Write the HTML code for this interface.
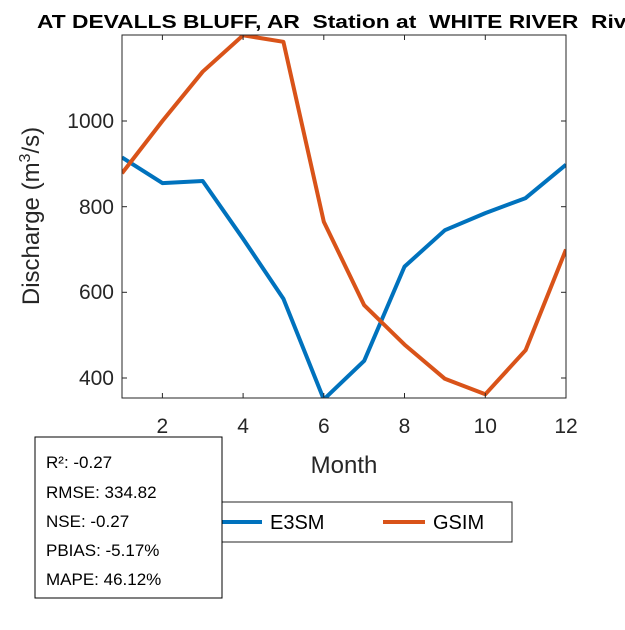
<!DOCTYPE html>
<html><head><style>body{margin:0;background:#fff}</style></head><body>
<svg width="625" height="625" xmlns="http://www.w3.org/2000/svg" font-family="Liberation Sans, Arial, sans-serif">
<rect width="625" height="625" fill="#fff"/>
<text x="37" y="28" font-size="18" font-weight="bold" fill="#000" style="white-space:pre" textLength="611" lengthAdjust="spacingAndGlyphs">AT DEVALLS BLUFF, AR  Station at  WHITE RIVER  River</text>
<defs><clipPath id="c"><rect x="122" y="35" width="444" height="363"/></clipPath></defs>
<g clip-path="url(#c)" fill="none" stroke-width="4" stroke-linejoin="round">
<polyline stroke="#0072BD" points="122,157.4 162.4,183.1 202.7,181 243.1,238.8 283.4,298.7 323.8,399.4 364.2,360.8 404.5,266.6 444.9,230.2 485.3,213.1 525.6,198.1 566,164.7"/>
<polyline stroke="#D95319" points="122,173.3 162.4,121 202.7,71.7 243.1,35.3 283.4,41.8 323.8,221.7 364.2,305.2 404.5,344.6 444.9,378.8 485.3,394.3 525.6,350.2 566,249.5"/>
</g>
<rect x="122" y="35" width="444" height="363" fill="none" stroke="#262626" stroke-width="1"/>
<g stroke="#262626" stroke-width="1">
<line x1="162.4" y1="398" x2="162.4" y2="393"/><line x1="243.1" y1="398" x2="243.1" y2="393"/><line x1="323.8" y1="398" x2="323.8" y2="393"/><line x1="404.5" y1="398" x2="404.5" y2="393"/><line x1="485.3" y1="398" x2="485.3" y2="393"/>
<line x1="162.4" y1="35" x2="162.4" y2="40"/><line x1="243.1" y1="35" x2="243.1" y2="40"/><line x1="323.8" y1="35" x2="323.8" y2="40"/><line x1="404.5" y1="35" x2="404.5" y2="40"/><line x1="485.3" y1="35" x2="485.3" y2="40"/>
<line x1="122" y1="121" x2="127" y2="121"/><line x1="122" y1="206.7" x2="127" y2="206.7"/><line x1="122" y1="292.3" x2="127" y2="292.3"/><line x1="122" y1="378" x2="127" y2="378"/>
<line x1="566" y1="121" x2="561" y2="121"/><line x1="566" y1="206.7" x2="561" y2="206.7"/><line x1="566" y1="292.3" x2="561" y2="292.3"/><line x1="566" y1="378" x2="561" y2="378"/>
</g>
<g font-size="21" fill="#262626" text-anchor="middle">
<text x="162.4" y="433">2</text><text x="243.1" y="433">4</text><text x="323.8" y="433">6</text><text x="404.5" y="433">8</text><text x="485.3" y="433">10</text><text x="566" y="433">12</text>
</g>
<g font-size="21" fill="#262626" text-anchor="end">
<text x="114" y="128">1000</text><text x="114" y="214">800</text><text x="114" y="299">600</text><text x="114" y="385">400</text>
</g>
<text x="344" y="473" font-size="24" fill="#262626" text-anchor="middle">Month</text>
<text transform="translate(39,216) rotate(-90)" font-size="24" fill="#262626" text-anchor="middle">Discharge (m<tspan dy="-9" font-size="16">3</tspan><tspan dy="9">/s)</tspan></text>
<rect x="208" y="502" width="304" height="40" fill="#fff" stroke="#262626"/>
<line x1="220" y1="522" x2="262" y2="522" stroke="#0072BD" stroke-width="4"/>
<text x="270" y="529" font-size="20" fill="#000">E3SM</text>
<line x1="383" y1="522" x2="425" y2="522" stroke="#D95319" stroke-width="4"/>
<text x="433" y="529" font-size="20" fill="#000">GSIM</text>
<rect x="35" y="437" width="187" height="161" fill="#fff" stroke="#000"/>
<g font-size="17" fill="#000">
<text x="46" y="468">R²: -0.27</text><text x="46" y="498">RMSE: 334.82</text><text x="46" y="527">NSE: -0.27</text><text x="46" y="556">PBIAS: -5.17%</text><text x="46" y="585">MAPE: 46.12%</text>
</g>
</svg>
</body></html>
